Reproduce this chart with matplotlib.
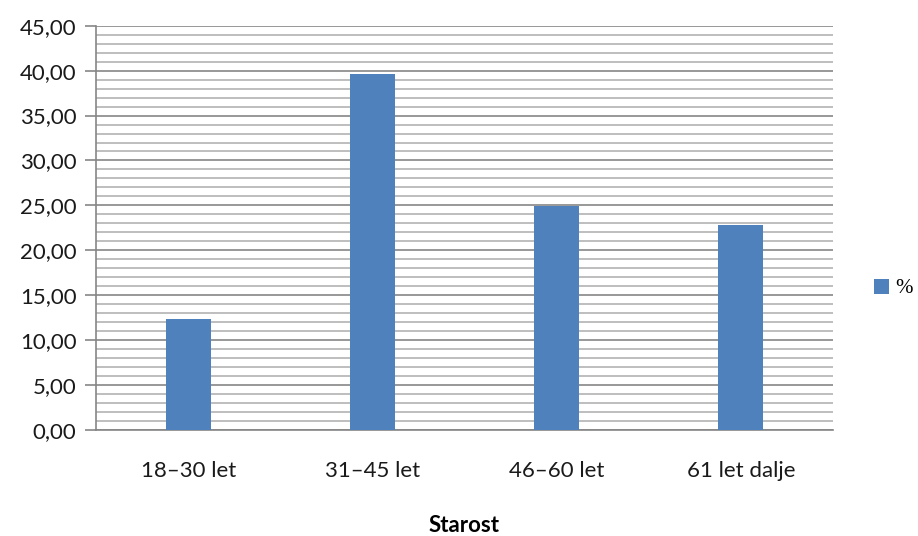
import numpy as np
import matplotlib.pyplot as plt
from matplotlib.ticker import MultipleLocator, FuncFormatter

categories = ['18–30 let', '31–45 let', '46–60 let', '61 let dalje']
values = [12.35, 39.6, 24.95, 22.85]
series_name = '%'

plt.rcParams['font.family'] = ['Lato', 'DejaVu Sans']

fig = plt.figure(figsize=(9.18, 5.36), dpi=100)
ax = fig.add_axes([0.1046, 0.1978, 0.8028, 0.7542])

x = np.arange(len(categories))
ax.bar(x, values, width=0.245, color='#4F81BD', label=series_name, zorder=3)

ax.set_xlim(-0.5, len(categories) - 0.5)
ax.set_ylim(0, 45)
ax.yaxis.set_major_locator(MultipleLocator(5))
ax.yaxis.set_minor_locator(MultipleLocator(1))
ax.yaxis.set_major_formatter(FuncFormatter(lambda v, p: f'{v:.2f}'.replace('.', ',')))

ax.grid(which='minor', axis='y', color='#B3B3B3', linewidth=1.2, zorder=0)
ax.grid(which='major', axis='y', color='#868686', linewidth=1.2, zorder=1)

for s in ['top', 'right']:
    ax.spines[s].set_visible(False)
for s in ['left', 'bottom']:
    ax.spines[s].set_color('#868686')
    ax.spines[s].set_linewidth(1.2)

ax.tick_params(axis='y', which='major', length=8, width=1.2, color='#868686',
               labelsize=16, pad=6, labelcolor='#1a1a1a')
ax.tick_params(axis='y', which='minor', length=0)
ax.tick_params(axis='x', length=0, labelsize=16, pad=22, labelcolor='#1a1a1a')
ax.set_xticks(x)
ax.set_xticklabels(categories)

ax.set_xlabel('Starost', fontsize=16, fontweight='bold', labelpad=25)

leg = ax.legend(loc='center left', bbox_to_anchor=(1.03, 0.35), frameon=False,
                fontsize=15, handlelength=0.75, handleheight=0.75, handletextpad=0.3)
for t in leg.get_texts():
    t.set_family(['Liberation Serif', 'DejaVu Serif'])

fig.savefig('out.png', dpi=100)
